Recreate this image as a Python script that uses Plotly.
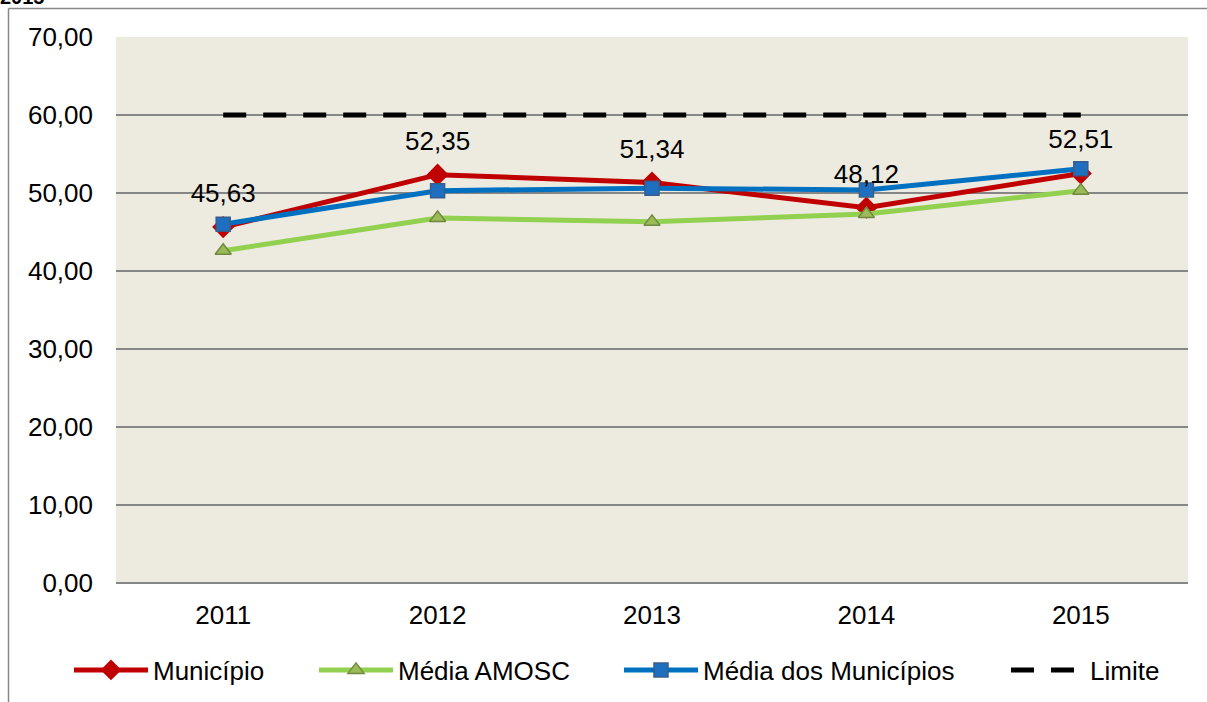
import plotly.graph_objects as go

years = ["2011", "2012", "2013", "2014", "2015"]
municipio = [45.63, 52.35, 51.34, 48.12, 52.51]
media_amosc = [42.6, 46.8, 46.3, 47.3, 50.3]
media_municipios = [46.0, 50.3, 50.6, 50.4, 53.1]
limite = [60, 60, 60, 60, 60]
municipio_labels = ["45,63", "52,35", "51,34", "48,12", "52,51"]
yticks = [0, 10, 20, 30, 40, 50, 60, 70]
heading = "2015"

W, H = 1207, 702
L, R, T, B = 116, 19, 37, 119
pw, ph = W - L - R, H - T - B

def px_x(p):
    return (p - L) / pw

def px_y(p):
    return (H - B - p) / ph

FONT = "Liberation Sans, Arial, sans-serif"
fs = 26

fig = go.Figure()
fig.add_trace(go.Scatter(
    x=years, y=municipio, name="Município", mode="lines+markers",
    line=dict(color="#C00000", width=5),
    marker=dict(symbol="diamond", size=17, color="#C00000", line=dict(color="#C00000", width=0)),
    legend="legend"))
fig.add_trace(go.Scatter(
    x=years, y=media_amosc, name="Média AMOSC", mode="lines+markers",
    line=dict(color="#92D050", width=5),
    marker=dict(symbol="triangle-up", size=14, color="#9BBB59", line=dict(color="#71893F", width=1.5)),
    legend="legend2"))
fig.add_trace(go.Scatter(
    x=years, y=media_municipios, name="Média dos Municípios", mode="lines+markers",
    line=dict(color="#0070C0", width=5),
    marker=dict(symbol="square", size=14, color="#1F6FC0", line=dict(color="#385D8A", width=1.5)),
    legend="legend3"))
fig.add_trace(go.Scatter(
    x=years, y=limite, name="Limite", mode="lines",
    line=dict(color="#000000", width=5, dash="23px,17px"),
    legend="legend4"))
# data labels of Município
fig.add_trace(go.Scatter(
    x=years, y=municipio, text=municipio_labels, mode="markers+text",
    textposition="top center", showlegend=False, hoverinfo="skip",
    marker=dict(size=28, color="rgba(0,0,0,0)"),
    textfont=dict(family=FONT, size=fs, color="#000000")))

# outer chart border (left and top)
fig.add_shape(type="line", xref="paper", yref="paper", x0=px_x(8.5), x1=px_x(8.5),
              y0=px_y(8.5), y1=px_y(710), line=dict(color="#888888", width=1.5))
fig.add_shape(type="line", xref="paper", yref="paper", x0=px_x(8.5), x1=px_x(1215),
              y0=px_y(8.5), y1=px_y(8.5), line=dict(color="#888888", width=1.5))

legend_common = dict(orientation="h", yanchor="middle", xanchor="left",
                     bgcolor="rgba(0,0,0,0)", font=dict(family=FONT, size=fs, color="#000000"),
                     itemwidth=74, tracegroupgap=0)
ly = px_y(670)
fig.update_layout(
    legend=dict(x=px_x(153 - 84), y=ly, **legend_common),
    legend2=dict(x=px_x(398 - 84), y=ly, **legend_common),
    legend3=dict(x=px_x(703 - 84), y=ly, **legend_common),
    legend4=dict(x=px_x(1090 - 84), y=ly, **legend_common),
)

fig.update_layout(
    width=W, height=H,
    margin=dict(l=L, r=R, t=T, b=B, pad=0, autoexpand=False),
    paper_bgcolor="#FFFFFF",
    plot_bgcolor="#EDEAE0",
    separators=",.",
    title=dict(text="<b>" + heading + "</b>", x=0.0, xanchor="left", xref="container",
               y=1 - 4 / H, yanchor="bottom", yref="container",
               font=dict(family=FONT, size=20, color="#000000")),
    font=dict(family=FONT, size=fs, color="#000000"),
    showlegend=True,
    xaxis=dict(type="category", range=[-0.5, 4.5], showgrid=False, zeroline=False,
               showline=False, ticks="", ticklabelstandoff=14, automargin=False,
               tickfont=dict(family=FONT, size=fs, color="#000000")),
    yaxis=dict(range=[0, 70], tickvals=yticks, tickformat=".2f", showgrid=True,
               gridcolor="#868686", gridwidth=1.5, zeroline=True, zerolinecolor="#868686",
               zerolinewidth=1.5, showline=False, ticks="", ticklabelstandoff=22, automargin=False,
               tickfont=dict(family=FONT, size=fs, color="#000000")),
)

fig.write_html("out.html", config={"displayModeBar": False},
               post_script="document.body.style.margin='0';")
